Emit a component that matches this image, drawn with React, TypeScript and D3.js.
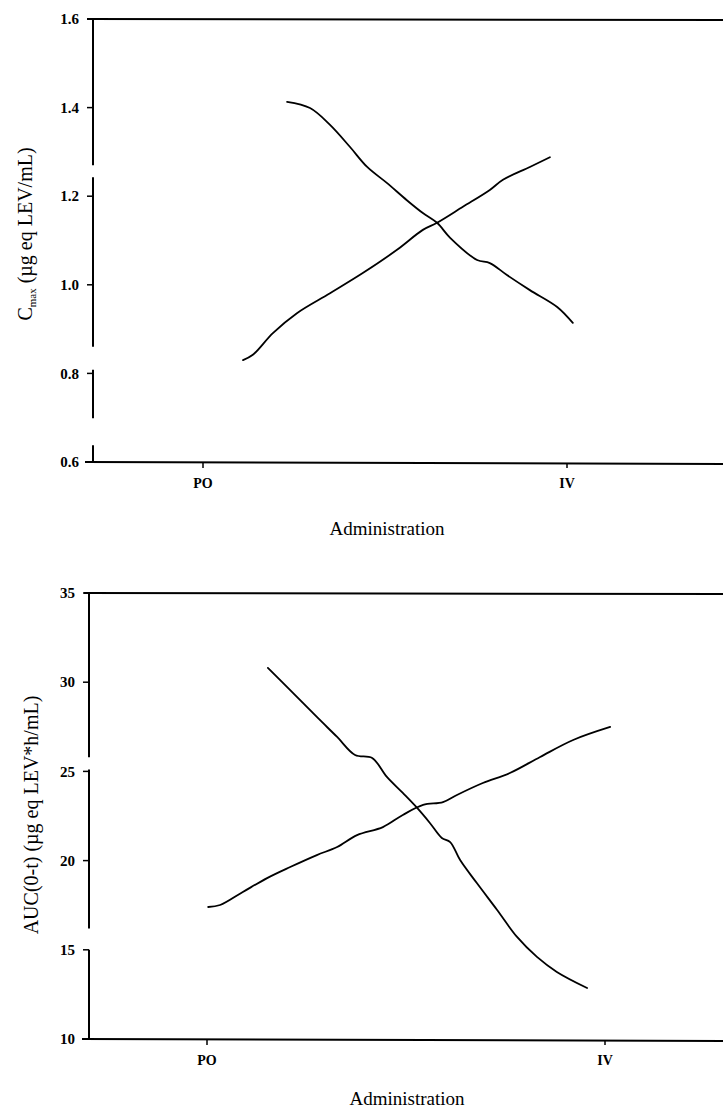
import React from "react";
import * as d3 from "d3";

// ---- data ----
const categories = ["PO", "IV"];
const categoryPos = [0, 1];

const cmaxTicks = [0.6, 0.8, 1.0, 1.2, 1.4, 1.6];
const aucTicks = [10, 15, 20, 25, 30, 35];

// Cmax panel, falling curve
const cmaxFallX = [0.231, 0.294, 0.349, 0.404, 0.451, 0.505, 0.56, 0.604, 0.643, 0.679, 0.753, 0.788, 0.835, 0.898, 0.973, 1.016];
const cmaxFallY = [1.413, 1.399, 1.361, 1.311, 1.266, 1.23, 1.191, 1.162, 1.14, 1.106, 1.056, 1.049, 1.022, 0.988, 0.95, 0.914];
// Cmax panel, rising curve
const cmaxRiseX = [0.11, 0.137, 0.192, 0.258, 0.349, 0.44, 0.533, 0.604, 0.643, 0.714, 0.788, 0.824, 0.898, 0.953];
const cmaxRiseY = [0.83, 0.842, 0.891, 0.936, 0.981, 1.027, 1.079, 1.124, 1.14, 1.176, 1.214, 1.237, 1.266, 1.288];

// AUC panel, falling curve
const aucFallX = [0.153, 0.209, 0.276, 0.327, 0.372, 0.415, 0.452, 0.492, 0.528, 0.56, 0.59, 0.611, 0.636, 0.678, 0.729, 0.779, 0.829, 0.879, 0.955];
const aucFallY = [30.8, 29.56, 28.05, 26.93, 25.92, 25.75, 24.69, 23.79, 22.95, 22.11, 21.27, 21.04, 20.03, 18.74, 17.23, 15.72, 14.6, 13.76, 12.86];
// AUC panel, rising curve
const aucRiseX = [0.003, 0.033, 0.09, 0.151, 0.209, 0.276, 0.327, 0.377, 0.442, 0.492, 0.543, 0.593, 0.628, 0.693, 0.761, 0.837, 0.92, 1.013];
const aucRiseY = [17.4, 17.51, 18.24, 19.02, 19.64, 20.31, 20.76, 21.43, 21.88, 22.56, 23.12, 23.28, 23.68, 24.35, 24.91, 25.81, 26.76, 27.49];

// scan breaks in the left axis line (value ranges where the line is missing)
const cmaxAxisGaps = [[0.638, 0.699], [0.808, 0.86], [1.243, 1.27]];
const aucAxisGaps = [[15.0, 16.2], [25.1, 25.8]];

type PanelProps = {
  left: number; top: number; bottom: number; xLeft: number; xRight: number;
  po: number; iv: number;
  domain: [number, number]; ticks: number[]; fmt: (v: number) => string;
  gaps: number[][];
  series: { x: number[]; y: number[] }[];
  yTitle: React.ReactNode; yTitleX: number; yTitleY: number;
  xTitleY: number; xTitleX: number;
};

const serif = "'Liberation Serif', 'Times New Roman', serif";

function Panel(p: PanelProps) {
  const x = d3.scaleLinear().domain([0, 1]).range([p.po, p.iv]);
  const y = d3.scaleLinear().domain(p.domain).range([p.bottom, p.top]);
  const line = d3.line<[number, number]>()
    .x((d) => x(d[0]))
    .y((d) => y(d[1]))
    .curve(d3.curveCatmullRom.alpha(0.5));

  const segs: [number, number][] = [];
  let start = p.domain[0];
  [...p.gaps].sort((a, b) => a[0] - b[0]).forEach(([g0, g1]) => {
    segs.push([start, g0]);
    start = g1;
  });
  segs.push([start, p.domain[1]]);

  return (
    <g>
      <line x1={p.xLeft + 2} x2={p.xRight} y1={p.top} y2={p.top + 1} stroke="#000" strokeWidth={2} />
      <line x1={p.xLeft} x2={p.xRight} y1={p.bottom} y2={p.bottom + 2} stroke="#000" strokeWidth={2} />
      {segs.map((s, i) => (
        <line key={i} x1={p.left} x2={p.left} y1={y(s[0])} y2={y(s[1])} stroke="#000" strokeWidth={2} />
      ))}
      {p.ticks.map((t) => (
        <g key={t}>
          <line x1={p.left - 6} x2={p.left} y1={y(t)} y2={y(t)} stroke="#000" strokeWidth={1.5} />
          <text x={p.left - 14} y={y(t)} dy="0.35em" textAnchor="end" fontFamily={serif}
            fontWeight="bold" fontSize={15}>{p.fmt(t)}</text>
        </g>
      ))}
      {categories.map((c, i) => (
        <g key={c}>
          <line x1={x(categoryPos[i])} x2={x(categoryPos[i])} y1={p.bottom + 1} y2={p.bottom + 6} stroke="#000" strokeWidth={1.5} />
          <text x={x(categoryPos[i])} y={p.bottom + 26} textAnchor="middle" fontFamily={serif}
            fontWeight="bold" fontSize={14}>{c}</text>
        </g>
      ))}
      <text x={p.xTitleX} y={p.xTitleY} textAnchor="middle" fontFamily={serif} fontSize={19}>Administration</text>
      <text transform={`translate(${p.yTitleX},${p.yTitleY}) rotate(-90)`} textAnchor="middle"
        fontFamily={serif} fontSize={20}>{p.yTitle}</text>
      {p.series.map((s, i) => (
        <path key={i} d={line(s.x.map((v, j) => [v, s.y[j]] as [number, number])) || ""}
          fill="none" stroke="#000" strokeWidth={1.8} strokeLinejoin="round" strokeLinecap="round" />
      ))}
    </g>
  );
}

export default function App() {
  return (
    <svg width={723} height={1120} viewBox="0 0 723 1120"
      style={{ position: "absolute", left: 0, top: 0, background: "#fff" }}>
      <rect x={0} y={0} width={723} height={1120} fill="#fff" />
      <Panel
        left={93} top={19} bottom={462} xLeft={85} xRight={723}
        po={203} iv={567}
        domain={[0.6, 1.6]} ticks={cmaxTicks} fmt={(v) => v.toFixed(1)}
        gaps={cmaxAxisGaps}
        series={[{ x: cmaxFallX, y: cmaxFallY }, { x: cmaxRiseX, y: cmaxRiseY }]}
        yTitle={<>C<tspan fontSize={11} dy={4}>max</tspan><tspan dy={-4}> (µg eq LEV/mL)</tspan></>}
        yTitleX={32} yTitleY={234}
        xTitleX={387} xTitleY={535}
      />
      <Panel
        left={89} top={593} bottom={1039} xLeft={82} xRight={723}
        po={207} iv={605}
        domain={[10, 35]} ticks={aucTicks} fmt={(v) => String(v)}
        gaps={aucAxisGaps}
        series={[{ x: aucFallX, y: aucFallY }, { x: aucRiseX, y: aucRiseY }]}
        yTitle={<>AUC(0-t) (µg eq LEV*h/mL)</>}
        yTitleX={38} yTitleY={815}
        xTitleX={407} xTitleY={1105}
      />
    </svg>
  );
}
